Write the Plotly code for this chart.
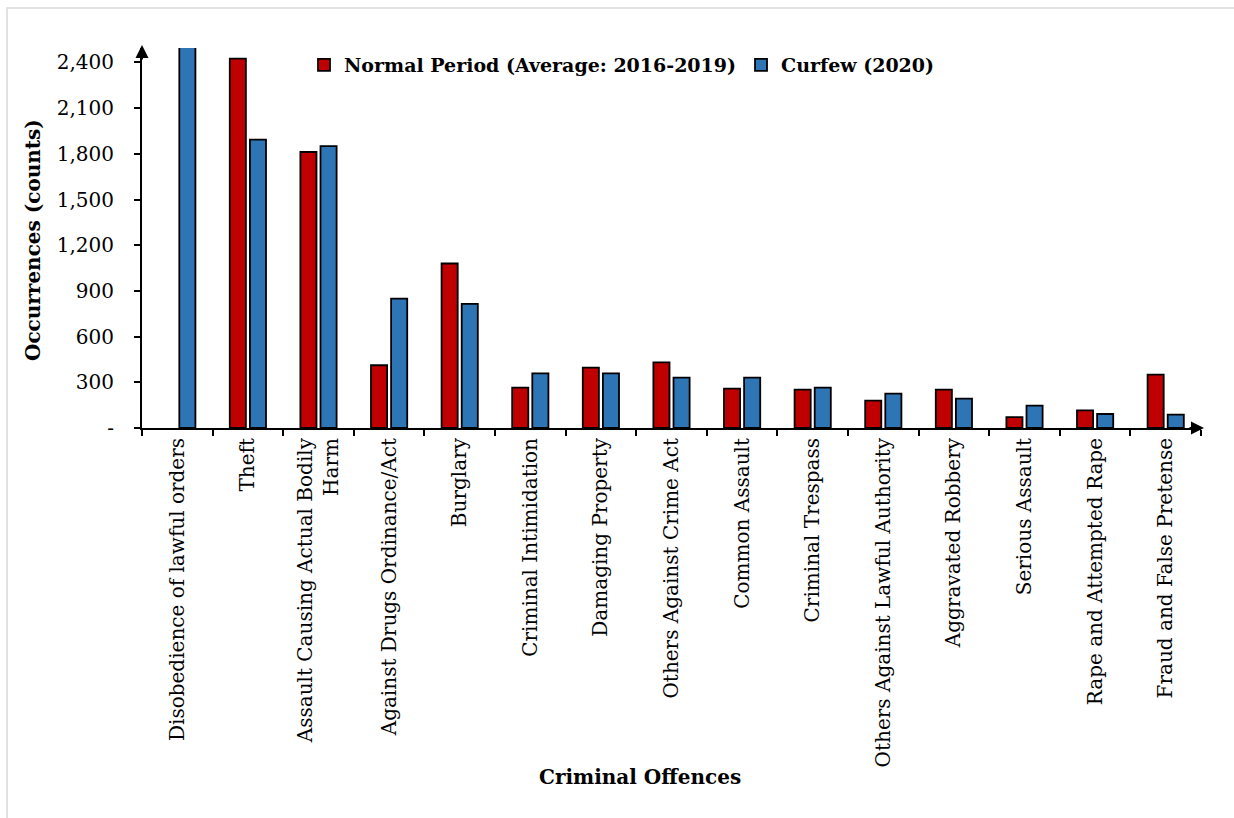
import plotly.graph_objects as go

categories = [
    "Disobedience of lawful orders", "Theft", "Assault Causing Actual Bodily<br>Harm",
    "Against Drugs Ordinance/Act", "Burglary", "Criminal Intimidation",
    "Damaging Property", "Others Against Crime Act", "Common Assault",
    "Criminal Trespass", "Others Against Lawful Authority", "Aggravated Robbery",
    "Serious Assault", "Rape and Attempted Rape", "Fraud and False Pretense",
]
normal_period = [None, 2425, 1812, 412, 1080, 265, 396, 431, 258, 252, 180, 252, 72, 116, 350]
curfew_2020 = [4800, 1893, 1851, 850, 815, 359, 359, 331, 331, 265, 226, 193, 147, 92, 88]

y_tickvals = [0, 300, 600, 900, 1200, 1500, 1800, 2100, 2400]
y_ticktext = ["-", "300", "600", "900", "1,200", "1,500", "1,800", "2,100", "2,400"]

SERIF = "DejaVu Serif"

fig = go.Figure()
fig.add_trace(go.Bar(
    x=categories, y=normal_period, name="Normal Period (Average: 2016-2019)",
    marker=dict(color="#C00000", line=dict(color="black", width=1.8)),
))
fig.add_trace(go.Bar(
    x=categories, y=curfew_2020, name="Curfew (2020)",
    marker=dict(color="#2E75B6", line=dict(color="black", width=1.8)),
))

L, R, T, B = 142, 33, 48, 390
W, H = 1234, 818
pw, ph = W - L - R, H - T - B

def px(xp):
    return (xp - L) / pw

def py(yp):
    return (H - B - yp) / ph

fig.update_layout(
    width=W, height=H,
    margin=dict(l=L, r=R, t=T, b=B, pad=0),
    paper_bgcolor="white", plot_bgcolor="white",
    barmode="group", bargap=0.43, bargroupgap=0.2,
    font=dict(family=SERIF, size=20, color="black"),
    showlegend=True,
    legend=dict(
        orientation="h", x=px(304), xanchor="left", y=py(65), yanchor="middle",
        font=dict(family=SERIF, size=19, color="black", weight="bold"),
        bgcolor="rgba(0,0,0,0)", itemwidth=30,
    ),
    xaxis=dict(
        type="category", range=[-0.5, 14.5],
        showline=True, linecolor="black", linewidth=2,
        ticks="outside", tickson="boundaries", ticklen=6, tickwidth=2, tickcolor="black",
        tickangle=-90, tickfont=dict(family=SERIF, size=20, color="black"),
        showgrid=False, zeroline=False,
    ),
    yaxis=dict(
        range=[0, 2495],
        showline=True, linecolor="black", linewidth=2,
        ticks="outside", ticklen=6, tickwidth=2, tickcolor="black",
        tickvals=y_tickvals, ticktext=y_ticktext,
        tickfont=dict(family=SERIF, size=20, color="black"),
        ticklabelstandoff=16,
        showgrid=False, zeroline=False,
    ),
    shapes=[
        dict(type="rect", xref="paper", yref="paper",
             x0=px(7), x1=px(1245), y0=py(830), y1=py(8),
             line=dict(color="#d9d9d9", width=1.5), fillcolor="rgba(0,0,0,0)", layer="below"),
    ],
    annotations=[
        dict(text="<b>Occurrences (counts)</b>", xref="paper", yref="paper",
             x=px(33), y=py(240), xanchor="center", yanchor="middle", textangle=-90,
             showarrow=False, font=dict(family=SERIF, size=20, color="black")),
        dict(text="<b>Criminal Offences</b>", xref="paper", yref="paper",
             x=px(640), y=py(777), xanchor="center", yanchor="middle",
             showarrow=False, font=dict(family=SERIF, size=20, color="black")),
        dict(text="", xref="paper", yref="paper", x=px(142), y=py(45),
             ax=0, ay=16, axref="pixel", ayref="pixel", showarrow=True,
             arrowhead=2, arrowsize=1.3, arrowwidth=2, arrowcolor="black", standoff=0),
        dict(text="", xref="paper", yref="paper", x=px(1204), y=py(428),
             ax=-16, ay=0, axref="pixel", ayref="pixel", showarrow=True,
             arrowhead=2, arrowsize=1.3, arrowwidth=2, arrowcolor="black", standoff=0),
    ],
)

fig.write_html("out.html")
